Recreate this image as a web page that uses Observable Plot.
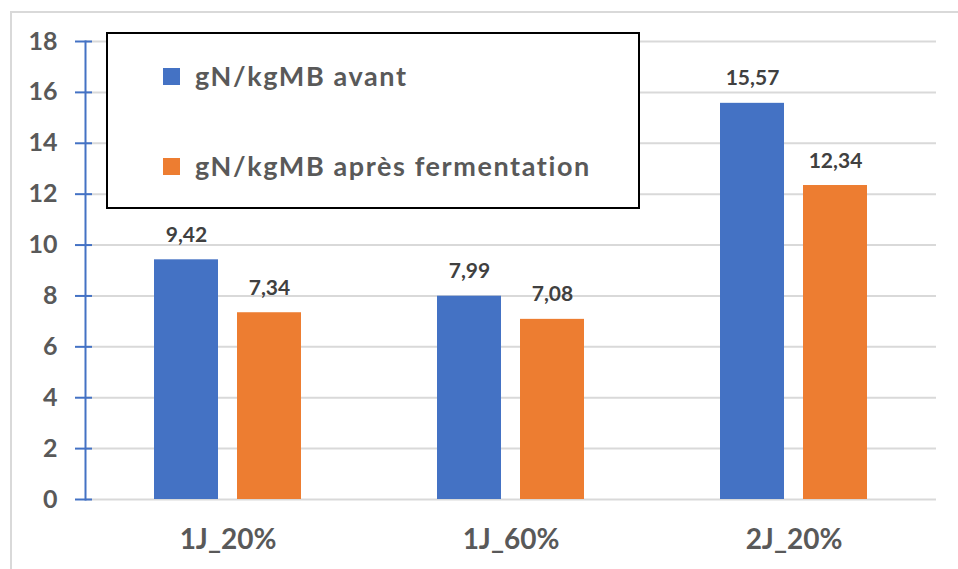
<!DOCTYPE html>
<html>
<head>
<meta charset="utf-8">
<script src="https://cdn.jsdelivr.net/npm/d3@7"></script>
<script src="https://cdn.jsdelivr.net/npm/@observablehq/plot@0.6"></script>
<style>
  html, body { margin: 0; padding: 0; background: #fff; }
  #wrap { position: relative; width: 958px; height: 569px; overflow: hidden; font-family: Lato, "Open Sans", sans-serif; }
  #border { position: absolute; left: 10px; top: 11px; width: 960px; height: 600px; border-left: 2px solid #d9d9d9; border-top: 2px solid #d9d9d9; box-sizing: border-box; }
  #chart { position: absolute; left: 0; top: 0; }
  #legend { position: absolute; left: 106px; top: 32px; width: 534px; height: 177px; box-sizing: border-box; border: 2px solid #000; background: #fff; }
  .item { position: absolute; left: 55px; display: flex; align-items: center; font-weight: bold; font-size: 27px; line-height: 32px; height: 32px; color: #595959; letter-spacing: 1.6px; white-space: nowrap; }
  .sw { width: 17px; height: 17px; margin-right: 15px; }
</style>
</head>
<body>
<div id="wrap">
  <div id="border"></div>
  <div id="chart"></div>
  <div id="legend"></div>
</div>
<script>
const categories = ["1J_20%", "1J_60%", "2J_20%"];
const seriesNames = ["gN/kgMB avant", "gN/kgMB après fermentation"];
const avant = [9.42, 7.99, 15.57];
const apres = [7.34, 7.08, 12.34];
const seriesColors = ["#4472C4", "#ED7D31"];
const yTicks = [0, 2, 4, 6, 8, 10, 12, 14, 16, 18];

const rowsA = categories.map((c, i) => ({cat: c, v: avant[i]}));
const rowsB = categories.map((c, i) => ({cat: c, v: apres[i]}));
const fmt = d => d.toFixed(2).replace(".", ",");

const barOpts = (color, dx) => ({
  x: "cat", y: "v", fill: color, dx, insetLeft: 109.5, insetRight: 109.5
});
const labelOpts = (dx) => ({
  x: "cat", y: "v", text: d => fmt(d.v), dx, dy: -18, lineAnchor: "bottom",
  fontSize: 21, fontWeight: "bold", fill: "#404040", fontFamily: "Lato"
});

const chart = Plot.plot({
  width: 958,
  height: 569,
  marginLeft: 85,
  marginRight: 22,
  marginTop: 41,
  marginBottom: 70,
  style: {fontFamily: "Lato, sans-serif", background: "transparent"},
  x: {domain: categories, padding: 0, label: null},
  y: {domain: [0, 18], label: null},
  marks: [
    Plot.gridY(yTicks, {stroke: "#d9d9d9", strokeOpacity: 1, strokeWidth: 2}),
    Plot.barY(rowsA, barOpts(seriesColors[0], -41.5)),
    Plot.barY(rowsB, barOpts(seriesColors[1], 41.5)),
    Plot.text(rowsA, labelOpts(-41.5)),
    Plot.text(rowsB, labelOpts(41.5)),
    Plot.frame({anchor: "left", stroke: "#4472C4", strokeWidth: 2}),
    Plot.axisY({ticks: yTicks, tickSize: 17, dx: 7, tickFormat: () => "", stroke: "#4472C4", strokeWidth: 2, strokeOpacity: 1}),
    Plot.axisY({ticks: yTicks, tickSize: 0, tickPadding: 28, fontSize: 25, fontWeight: "bold", fill: "#595959", label: null}),
    Plot.axisX({tickSize: 0, tickPadding: 30, fontSize: 28, fontWeight: "bold", fill: "#595959", label: null})
  ]
});
document.getElementById("chart").appendChild(chart);

const legend = document.getElementById("legend");
const tops = [26, 116];
seriesNames.forEach((name, i) => {
  const it = document.createElement("div");
  it.className = "item";
  it.style.top = tops[i] + "px";
  const sw = document.createElement("span");
  sw.className = "sw";
  sw.style.background = seriesColors[i];
  const tx = document.createElement("span");
  tx.textContent = name;
  it.appendChild(sw);
  it.appendChild(tx);
  legend.appendChild(it);
});
</script>
</body>
</html>
